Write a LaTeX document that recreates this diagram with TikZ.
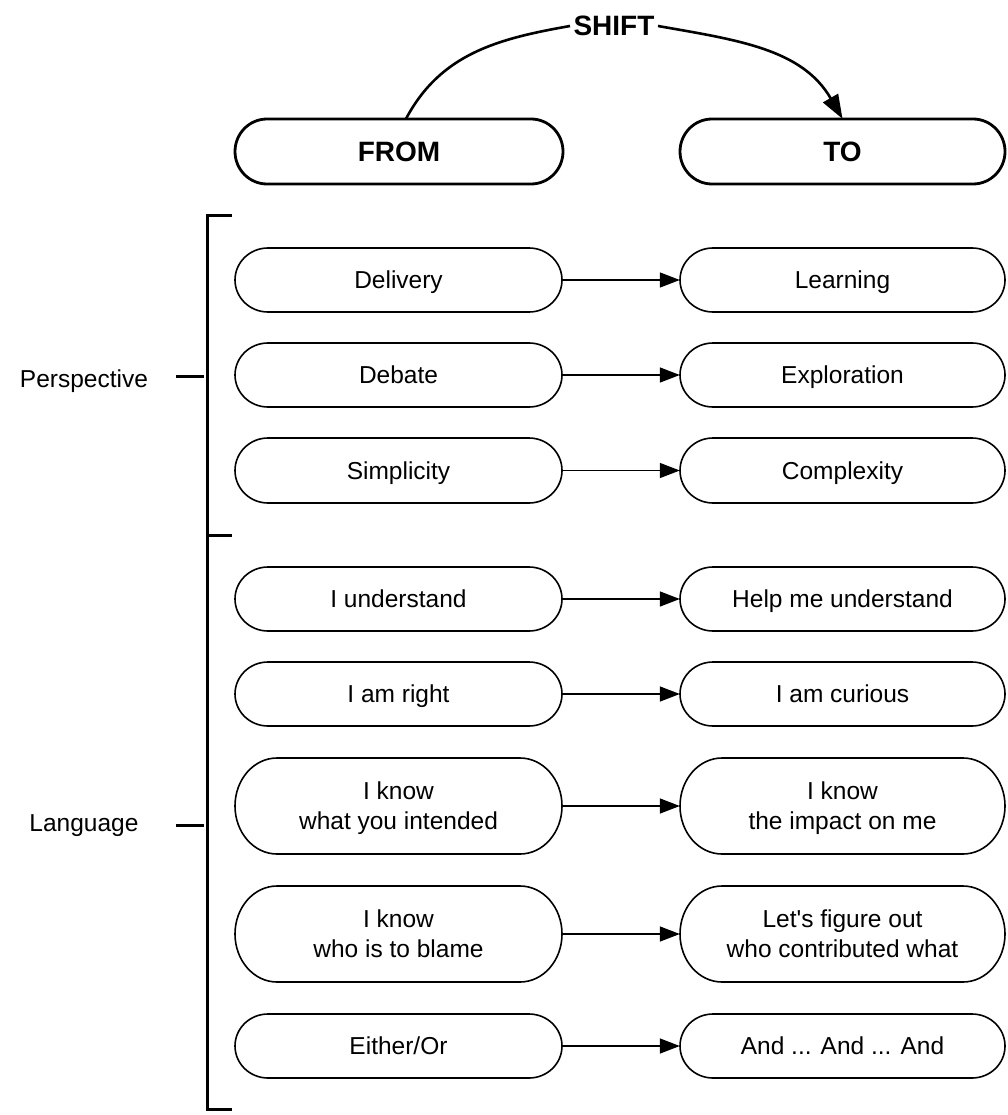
\documentclass[tikz,border=0pt]{standalone}
\usepackage{fontspec}
\setmainfont{Liberation Sans}[Ligatures=TeXOff]
\usetikzlibrary{arrows.meta,calc}
\tikzset{
  pillnode/.style={inner sep=0pt, draw=none, align=center, text depth=0pt, font=\fontsize{24.5}{30}\selectfont},
  pilltitle/.style={font=\fontsize{28}{34}\selectfont\bfseries},
  thinline/.style={line width=1.6pt},
  thickline/.style={line width=2.8pt},
  conn/.style={line width=1.5pt, -{Triangle[length=20pt,width=15pt]}},
  shiftarrow/.style={line width=2.6pt, -{Triangle[length=24pt,width=17pt]}},
  shiftline/.style={line width=2.6pt},
  bracketline/.style={line width=3pt},
  sidelabel/.style={font=\fontsize{24.5}{30}\selectfont, inner sep=0pt}
}
% #1 name, #2 left, #3 top, #4 right, #5 bottom, #6 rx, #7 line style, #8 node style, #9 text
\newcommand\pill[9]{%
  \pgfmathsetmacro\pw{#4-#2}%
  \pgfmathsetmacro\ph{#5-#3}%
  \pgfmathsetmacro\pcx{(#2+#4)/2}%
  \pgfmathsetmacro\pcy{-(#3+#5)/2}%
  \pgfmathsetmacro\pry{(#5-#3)/2}%
  \node[pillnode,#8,minimum width=\pw pt,minimum height=\ph pt] (#1) at (\pcx,\pcy) {#9};
  \draw[#7] (#2+#6,-#3) -- (#4-#6,-#3)
    arc[start angle=90,end angle=-90,x radius=#6pt,y radius=\pry pt]
    -- (#2+#6,-#5)
    arc[start angle=270,end angle=90,x radius=#6pt,y radius=\pry pt] -- cycle;
}
\begin{document}
\begin{tikzpicture}[x=1pt,y=1pt]
\useasboundingbox (0,0) rectangle (1007,-1115);

% headers
\pill{from}{235}{119}{563}{184}{32}{thickline}{pilltitle}{FROM}
\pill{to}{680}{119}{1005}{184}{32}{thickline}{pilltitle}{TO}
\node[pilltitle] (shift) at (614,-26) {SHIFT};
\draw[shiftline] ($(from.north)+(7,0)$) to[out=62,in=190] (shift.west);
\draw[shiftarrow] (shift.east) to[out=-10,in=120] (to.north);

% rows
\pill{l1}{235}{248}{562}{312}{33}{thinline}{}{Delivery}
\pill{r1}{680}{248}{1005}{312}{33}{thinline}{}{Learning}
\pill{l2}{235}{343}{562}{407}{33}{thinline}{}{Debate}
\pill{r2}{680}{343}{1005}{407}{33}{thinline}{}{Exploration}
\pill{l3}{235}{438}{562}{503}{33}{thinline}{}{Simplicity}
\pill{r3}{680}{438}{1005}{503}{33}{thinline}{}{Complexity}
\pill{l4}{235}{567}{562}{631}{33}{thinline}{}{I understand}
\pill{r4}{680}{567}{1005}{631}{33}{thinline}{}{Help me understand}
\pill{l5}{235}{662}{562}{726}{33}{thinline}{}{I am right}
\pill{r5}{680}{662}{1005}{726}{33}{thinline}{}{I am curious}
\pill{l6}{235}{758}{562}{854}{42}{thinline}{}{I know\\what you intended}
\pill{r6}{680}{758}{1005}{854}{42}{thinline}{}{I know\\the impact on me}
\pill{l7}{235}{886}{562}{982}{42}{thinline}{}{I know\\who is to blame}
\pill{r7}{680}{886}{1005}{982}{42}{thinline}{}{Let's figure out\\who contributed what}
\pill{l8}{235}{1014}{562}{1078}{33}{thinline}{}{Either/Or}
\pill{r8}{680}{1014}{1005}{1078}{33}{thinline}{}{And ... And ... And}

\foreach \i in {1,...,8} \draw[conn] (l\i) -- (r\i);

% bracket
\coordinate (btop) at (207,-216);
\coordinate (bmid) at (207,-535);
\coordinate (bbot) at (207,-1109);
\draw[bracketline] ($(btop)+(25,0)$) -- (btop) -- (bbot) -- ($(bbot)+(25,0)$);
\draw[bracketline] (bmid) -- ($(bmid)+(25,0)$);

\node[sidelabel, anchor=base] (persp) at (84,-387) {Perspective};
\node[sidelabel, anchor=base] (lang) at (84,-831) {Language};
\coordinate (ptick) at (204,-376);
\coordinate (ltick) at (204,-825);
\draw[bracketline] ($(ptick)+(-28,0)$) -- (ptick);
\draw[bracketline] ($(ltick)+(-28,0)$) -- (ltick);
\end{tikzpicture}
\end{document}
